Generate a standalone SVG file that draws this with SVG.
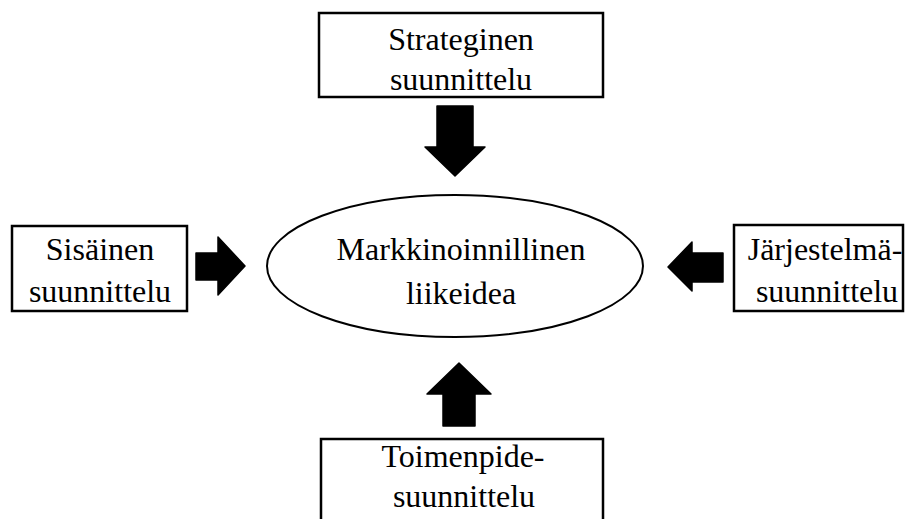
<svg xmlns="http://www.w3.org/2000/svg" width="911" height="519" viewBox="0 0 911 519">
  <style>
    .box { fill: #ffffff; stroke: #000000; stroke-width: 2.5; }
    .ell { fill: #ffffff; stroke: #000000; stroke-width: 2; }
    .lbl { font-family: "Liberation Serif", "Times New Roman", serif; font-size: 32px; fill: #000000; text-anchor: middle; }
    .arrow { fill: #000000; stroke: #000000; stroke-width: 1.5; stroke-linejoin: round; }
  </style>
  <rect x="0" y="0" width="911" height="519" fill="#ffffff"/>
  <g id="strateginen">
    <rect class="box" x="319" y="13" width="284" height="84"/>
    <text class="lbl" x="461" y="50">Strateginen</text>
    <text class="lbl" x="461" y="90">suunnittelu</text>
  </g>
  <g id="sisainen">
    <rect class="box" x="12" y="226" width="175" height="85"/>
    <text class="lbl" x="100" y="260">Sisäinen</text>
    <text class="lbl" x="100" y="302">suunnittelu</text>
  </g>
  <g id="jarjestelma">
    <rect class="box" x="734" y="225" width="169" height="86"/>
    <text class="lbl" x="825" y="260">Järjestelmä-</text>
    <text class="lbl" x="827" y="302">suunnittelu</text>
  </g>
  <g id="toimenpide">
    <rect class="box" x="321" y="439" width="282" height="90"/>
    <text class="lbl" x="463" y="467">Toimenpide-</text>
    <text class="lbl" x="464" y="507">suunnittelu</text>
  </g>
  <g id="liikeidea">
    <ellipse class="ell" cx="455" cy="266" rx="188" ry="71"/>
    <text class="lbl" x="461" y="260">Markkinoinnillinen</text>
    <text class="lbl" x="461" y="304">liikeidea</text>
  </g>
  <g id="connectors">
    <polygon class="arrow" points="437,106 473,106 473,147 485,147 455,176 425,147 437,147"/>
    <polygon class="arrow" points="196,253 218,253 218,237 245,266 218,295 218,280 196,280"/>
    <polygon class="arrow" points="723,253 692,253 692,242 668,267 692,291 692,282 723,282"/>
    <polygon class="arrow" points="443,426 475,426 475,394 491,394 459,363 427,394 443,394"/>
  </g>
</svg>
